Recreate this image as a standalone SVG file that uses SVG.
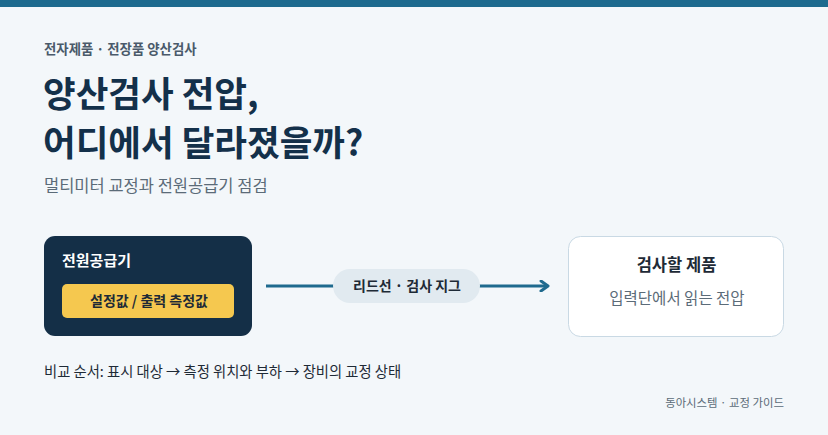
<svg xmlns="http://www.w3.org/2000/svg" width="828" height="435" viewBox="0 0 828 435">
<style>
text{font-family:"Noto Sans CJK KR","Noto Sans",sans-serif}
.b{font-weight:700}
.mut{fill:#5b6b78}
.dark{fill:#13304a}
</style>
<defs>
<marker id="arr" viewBox="0 0 12 12" refX="9" refY="6" markerWidth="12" markerHeight="12" markerUnits="userSpaceOnUse" orient="auto">
<path d="M2,1 L9,6 L2,11" fill="none" stroke="#1f6a8e" stroke-width="3" stroke-linecap="round" stroke-linejoin="round"/>
</marker>
</defs>
<rect width="828" height="435" fill="#f3f7fa"/>
<rect width="828" height="7" fill="#1d6a8e"/>
<text x="44" y="54" font-size="13.4" class="b" fill="#4a5a6a">전자제품 · 전장품 양산검사</text>
<text x="43" y="107" font-size="35.5" class="b dark">양산검사 전압,</text>
<text x="43" y="156" font-size="35.5" class="b dark">어디에서 달라졌을까?</text>
<text x="44" y="192" font-size="16.5" class="mut">멀티미터 교정과 전원공급기 점검</text>
<g id="connectors">
<line x1="266" y1="286" x2="548" y2="286" stroke="#1f6a8e" stroke-width="3" marker-end="url(#arr)"/>
<g id="edge-label">
<rect x="333" y="269" width="147" height="34" rx="17" fill="#e1eaf0"/>
<text x="407" y="291" font-size="14" class="b" fill="#1e2a36" text-anchor="middle">리드선 · 검사 지그</text>
</g>
</g>
<g id="power-supply">
<rect x="44" y="236" width="208" height="100" rx="11" fill="#142f47"/>
<text x="62" y="266" font-size="15" class="b" fill="#ffffff">전원공급기</text>
<rect x="62" y="284" width="172" height="34" rx="5" fill="#f5c84f"/>
<text x="149" y="306" font-size="14" class="b" fill="#1e2a36" text-anchor="middle">설정값 / 출력 측정값</text>
</g>
<g id="product">
<rect x="568.5" y="236.5" width="215" height="100" rx="12" fill="#ffffff" stroke="#c9d9e4"/>
<text x="676.5" y="271" font-size="16.5" class="b" fill="#1e2a36" text-anchor="middle">검사할 제품</text>
<text x="677" y="304" font-size="15.5" class="mut" text-anchor="middle">입력단에서 읽는 전압</text>
</g>
<text x="44" y="377" font-size="14.3" fill="#1e2a36">비교 순서: 표시 대상 → 측정 위치와 부하 → 장비의 교정 상태</text>
<text x="784" y="407" font-size="11.4" class="mut" text-anchor="end">동아시스템 · 교정 가이드</text>
</svg>
